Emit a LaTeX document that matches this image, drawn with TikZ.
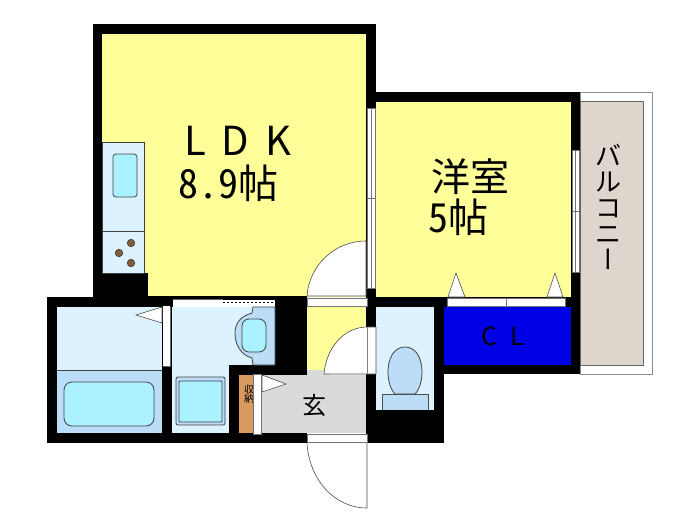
\documentclass[tikz,border=0pt]{standalone}
\usepackage{fontspec}
\setmainfont{Noto Sans CJK JP}[RawFeature=+hwid]
\newfontfamily\ldkfont{Noto Sans CJK JP}[LetterSpace=40]
\newfontfamily\clfont{Noto Sans CJK JP}[LetterSpace=55]
\newfontfamily\vertfont{Noto Sans CJK JP}[RawFeature=+vert]
\definecolor{roomyellow}{HTML}{FFFF99}
\definecolor{wetblue}{HTML}{DDF2FF}
\definecolor{fixblue}{HTML}{BBDDF8}
\definecolor{tubblue}{HTML}{AAF2FF}
\definecolor{closetblue}{HTML}{0000E6}
\definecolor{shelfbrown}{HTML}{D9995F}
\definecolor{hallgrey}{HTML}{D9DBDB}
\definecolor{balconygrey}{HTML}{DED6CC}
\newcommand{\fsize}[1]{\fontsize{#1}{#1}\selectfont}

\begin{document}
\begin{tikzpicture}[x=1pt,y=-1pt,
    wall/.style={fill=black},
    fixture/.style={draw=black!75,line width=.8pt},
    doorleaf/.style={fill=white,draw=black!70,line width=.6pt},
    fitting/.style={fill=white,draw=black!55,line width=.6pt},
    label/.style={inner sep=0pt,text=black}]
    \useasboundingbox (0,0) rectangle (700,525);
    % floors
    \fill[roomyellow] (102,34) rectangle (366,297);
    \fill[roomyellow] (376,102) rectangle (571,297);
    \fill[roomyellow] (307,307) rectangle (366,370);
    \fill[wetblue] (57,307) rectangle (162,370);
    \fill[fixblue] (57,370) rectangle (162,433);
    \fill[wetblue] (172,307) -- (275,307) -- (275,365) -- (229,365) -- (229,433) -- (172,433) -- cycle;
    \fill[wetblue] (376,307) rectangle (434,410);
    \fill[closetblue] (444,307) rectangle (571,365);
    \fill[shelfbrown] (239,375) rectangle (253,433);
    \fill[hallgrey] (261,375) rectangle (366,433);
    \fill[hallgrey] (307,370) rectangle (330,375);
    % balcony
    \draw[black!45,line width=.6pt] (580,92) rectangle (652,374);
    \draw[black!60,fill=balconygrey,line width=.8pt] (580,101) rectangle (643,365);
    % walls
    \fill[wall] (93,24) rectangle (102,298);
    \fill[wall] (93,24) rectangle (376,34);
    \fill[wall] (366,24) rectangle (376,443);
    \fill[wall] (366,92) rectangle (580,102);
    \fill[wall] (571,92) rectangle (580,374);
    \fill[wall] (93,273) rectangle (148,298);
    \fill[wall] (47,297) rectangle (57,443);
    \fill[wall] (47,297) rectangle (173,307);
    \fill[wall] (148,296) rectangle (307,300);
    \fill[wall] (275,297) rectangle (307,375);
    \fill[wall] (162,307) rectangle (172,443);
    \fill[wall] (47,433) rectangle (307,443);
    \fill[wall] (229,365) rectangle (275,375);
    \fill[wall] (229,365) rectangle (239,443);
    \fill[wall] (366,297) rectangle (571,307);
    \fill[wall] (434,307) rectangle (444,443);
    \fill[wall] (444,365) rectangle (580,374);
    \fill[wall] (366,410) rectangle (444,443);
    % kitchen
    \draw[fixture,fill=wetblue] (102,142) rectangle (144,273);
    \draw[fixture] (102,231) -- (144,231);
    \draw[fixture,fill=tubblue,rounded corners=3pt] (113,154) rectangle (137,197);
    \foreach \bx/\by in {131/243,119/253,131/263}
        \draw[black!80,fill=shelfbrown!60!black,line width=.5pt] (\bx,\by) circle (3.8);
    % bath
    \draw[fixture] (57,370) -- (162,370);
    \draw[fixture,fill=tubblue,rounded corners=8pt] (64,382) rectangle (154,426);
    % washroom
    \draw[fixture,fill=fixblue] (253,307) -- (252,313) .. controls (241,316) and (235,323) .. (235,333) .. controls (235,345) and (241,355) .. (252,358) -- (253,365) -- (275,365) -- (275,307) -- cycle;
    \draw[fixture,fill=tubblue,rounded corners=7pt] (242,319) rectangle (266,352);
    \draw[fixture,fill=fixblue,rounded corners=2pt] (176,377) rectangle (225,425);
    \draw[fixture,fill=tubblue,rounded corners=1pt] (179,381) rectangle (222,422);
    % toilet
    \draw[fixture,fill=fixblue] (395,394) .. controls (384,383) and (385,347) .. (405,347) .. controls (425,347) and (426,383) .. (415,394) -- cycle;
    \draw[black!70,fill=fixblue,line width=.6pt] (382,410) -- (382,394) -- (428,394) -- (428,410);
    % windows
    \draw[fitting] (367,108) rectangle (375,288);
    \draw[black!55,line width=.5pt] (371,108) -- (371,288) (367,198) -- (375,198) (371,190) -- (371,206);
    \draw[fitting] (572,150) rectangle (579,272);
    \draw[black!55,line width=.5pt] (575.5,150) -- (575.5,272) (572,211) -- (579,211) (575.5,204) -- (575.5,218);
    % sliding door of the washroom
    \fill[white] (173,299) rectangle (274,305);
    \draw[black!60,line width=.5pt] (173,299) -- (223,299);
    \draw[black,dash pattern=on 2pt off 2pt,line width=.7pt] (223,302) -- (274,302);
    \fill[black] (223,297) rectangle (274,300);
    % closet doors
    \draw[fitting] (447,298) rectangle (506,306);
    \draw[fitting] (506,298) rectangle (565,306);
    \draw[doorleaf] (448,297) -- (456,273) -- (465,297) -- cycle;
    \draw[doorleaf] (547,297) -- (555,273) -- (563,297) -- cycle;
    \draw[doorleaf] (162,307) -- (136,315) -- (162,323) -- cycle;
    \fill[white] (163,306) rectangle (170,366);
    \draw[black!60,line width=.5pt] (170,307) -- (170,366) -- (163,366);
    % storage label is cut by the door
    \node[label,font=\fsize{10},align=center,text=black] (shelflabel) at (249,394) {収\\[-1pt]納};
    \draw[doorleaf] (262,375) -- (286,384) -- (262,392) -- cycle;
    \draw[fitting,fill=white] (253,374) rectangle (261,434);
    % swing doors
    \draw[doorleaf] (307,296) .. controls (309,266) and (334,241) .. (366,241) -- (366,296) -- cycle;
    \draw[fitting] (307,298) rectangle (367,306);
    \draw[doorleaf] (324,374) .. controls (326,348) and (344,327) .. (367,327) -- (376,327) -- (376,374) -- cycle;
    \draw[black!50,line width=.5pt] (367,327) -- (367,374);
    \draw[black!70,line width=.6pt] (307,443) .. controls (309,479) and (334,508) .. (367,508) -- (367,443);
    \draw[fitting] (307,434) rectangle (367,442);
    % room names
    \node[label,anchor=base west,font=\ldkfont\fsize{40}] (ldkname) at (184,155) {LDK};
    \node[label,anchor=base west,font=\fsize{40}] (ldksize) at (178,198) {8.9帖};
    \node[label,anchor=base west,font=\fsize{39}] (bedname) at (431,191) {洋室};
    \node[label,anchor=base west,font=\fsize{40}] (bedsize) at (428,232) {5帖};
    \node[label,anchor=base west,font=\clfont\fsize{25}] (closetname) at (481,345) {CL};
    \node[label,font=\fsize{24}] (hallname) at (314,405) {玄};
    \node[label,font=\fsize{26},align=center] (balconyname) at (608,207) {\fontsize{26}{26}\selectfont バ\\ル\\コ\\ニ\\{\vertfont ー}};
\end{tikzpicture}
\end{document}
